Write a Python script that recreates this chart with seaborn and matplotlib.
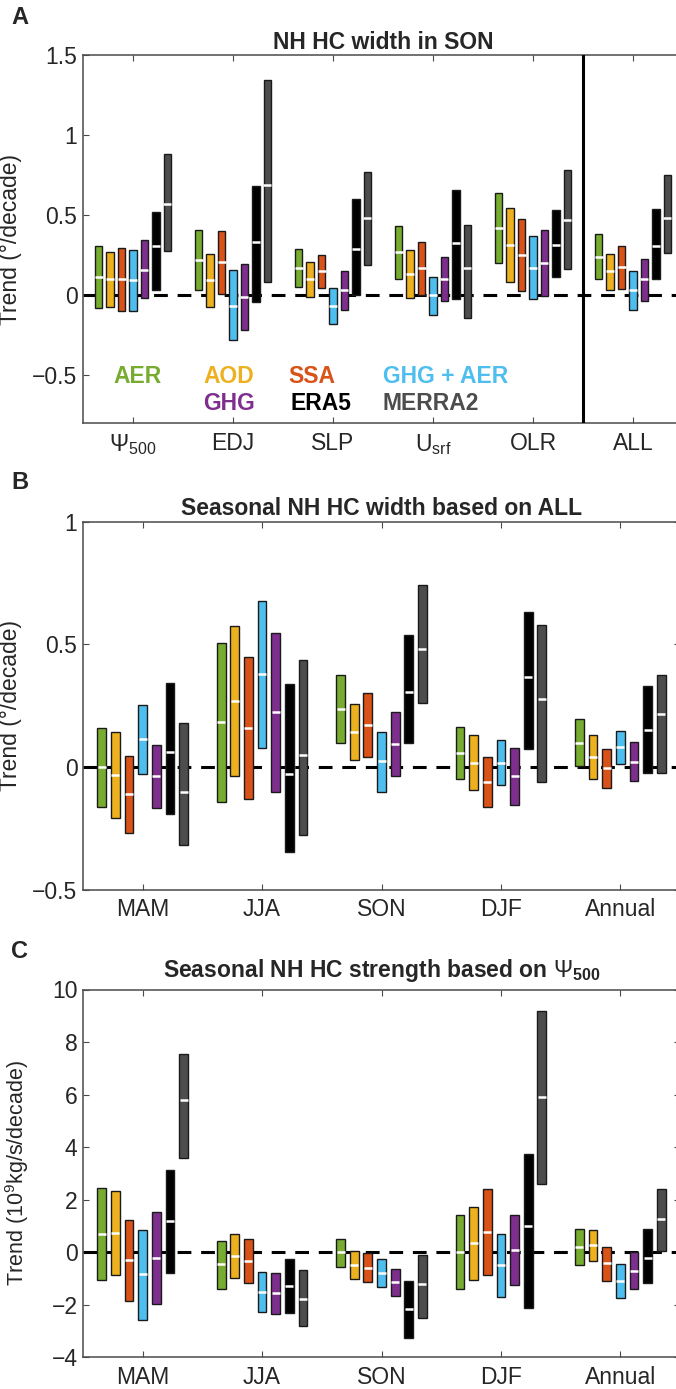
import numpy as np
import pandas as pd
import matplotlib
matplotlib.use("Agg")
import matplotlib.pyplot as plt
import seaborn as sns

# ---------------- data ----------------
series = ["AER", "AOD", "SSA", "GHG + AER", "GHG", "ERA5", "MERRA2"]
colors = ["#77AC30", "#EDB120", "#D95319", "#4DBEEE", "#7E2F8E", "#000000", "#4D4D4D"]

# Panel A: NH HC width in SON, by metric
cats_a = ["Psi500", "EDJ", "SLP", "Usrf", "OLR", "ALL"]
xlabels_a = [r"$\Psi_{500}$", "EDJ", "SLP", r"U$_{\mathrm{srf}}$", "OLR", "ALL"]
high_a = [
    [0.31, 0.41, 0.29, 0.435, 0.64, 0.38],
    [0.27, 0.26, 0.205, 0.28, 0.545, 0.26],
    [0.295, 0.40, 0.25, 0.335, 0.475, 0.305],
    [0.285, 0.155, 0.045, 0.115, 0.37, 0.15],
    [0.345, 0.195, 0.15, 0.24, 0.405, 0.225],
    [0.52, 0.68, 0.60, 0.66, 0.535, 0.54],
    [0.88, 1.345, 0.77, 0.44, 0.78, 0.75],
]
med_a = [
    [0.115, 0.22, 0.17, 0.27, 0.42, 0.24],
    [0.10, 0.095, 0.10, 0.135, 0.315, 0.15],
    [0.10, 0.205, 0.15, 0.17, 0.25, 0.175],
    [0.095, -0.065, -0.065, 0.0, 0.17, 0.03],
    [0.16, -0.01, 0.03, 0.10, 0.20, 0.10],
    [0.31, 0.335, 0.29, 0.325, 0.315, 0.31],
    [0.57, 0.69, 0.48, 0.17, 0.47, 0.485],
]
low_a = [
    [-0.08, 0.035, 0.05, 0.10, 0.20, 0.10],
    [-0.075, -0.075, -0.01, -0.015, 0.085, 0.035],
    [-0.10, 0.01, 0.045, 0.0, 0.025, 0.04],
    [-0.10, -0.28, -0.18, -0.125, -0.025, -0.095],
    [-0.02, -0.215, -0.09, -0.035, -0.005, -0.035],
    [0.03, -0.045, 0.0, -0.025, 0.115, 0.10],
    [0.275, 0.085, 0.19, -0.145, 0.165, 0.265],
]

# Panel B: seasonal NH HC width based on ALL
cats_s = ["MAM", "JJA", "SON", "DJF", "Annual"]
high_b = [
    [0.158, 0.504, 0.374, 0.164, 0.196],
    [0.145, 0.576, 0.259, 0.13, 0.131],
    [0.045, 0.447, 0.303, 0.041, 0.076],
    [0.255, 0.679, 0.145, 0.11, 0.149],
    [0.089, 0.547, 0.224, 0.08, 0.102],
    [0.343, 0.339, 0.539, 0.631, 0.329],
    [0.181, 0.436, 0.744, 0.578, 0.376],
]
med_b = [
    [0.0, 0.183, 0.237, 0.058, 0.10],
    [-0.03, 0.271, 0.145, 0.019, 0.043],
    [-0.11, 0.16, 0.172, -0.061, -0.004],
    [0.114, 0.378, 0.024, 0.017, 0.081],
    [-0.037, 0.224, 0.095, -0.035, 0.021],
    [0.062, -0.027, 0.305, 0.366, 0.152],
    [-0.102, 0.05, 0.481, 0.279, 0.215],
]
low_b = [
    [-0.163, -0.14, 0.099, -0.048, 0.005],
    [-0.207, -0.034, 0.03, -0.094, -0.046],
    [-0.267, -0.129, 0.041, -0.161, -0.084],
    [-0.027, 0.077, -0.099, -0.073, 0.013],
    [-0.164, -0.10, -0.034, -0.152, -0.058],
    [-0.19, -0.344, 0.10, 0.073, -0.024],
    [-0.316, -0.276, 0.26, -0.062, -0.024],
]

# Panel C: seasonal NH HC strength based on Psi500
high_c = [
    [2.44, 0.43, 0.51, 1.43, 0.90],
    [2.34, 0.70, 0.06, 1.71, 0.86],
    [1.23, 0.50, -0.04, 2.39, 0.21],
    [0.86, -0.74, -0.24, 0.70, -0.45],
    [1.52, -0.79, -0.64, 1.41, -0.01],
    [3.14, -0.25, -1.10, 3.74, 0.88],
    [7.55, -0.67, -0.09, 9.18, 2.42],
]
med_c = [
    [0.69, -0.46, -0.01, 0.02, 0.21],
    [0.75, -0.14, -0.48, 0.34, 0.28],
    [-0.31, -0.34, -0.59, 0.76, -0.42],
    [-0.84, -1.51, -0.78, -0.48, -1.09],
    [-0.23, -1.56, -1.14, 0.09, -0.70],
    [1.19, -1.28, -2.16, 1.00, -0.21],
    [5.80, -1.78, -1.22, 5.90, 1.28],
]
low_c = [
    [-1.06, -1.39, -0.57, -1.40, -0.48],
    [-0.85, -1.00, -1.03, -1.06, -0.33],
    [-1.85, -1.19, -1.14, -0.86, -1.08],
    [-2.57, -2.29, -1.33, -1.69, -1.75],
    [-1.97, -2.35, -1.68, -1.23, -1.41],
    [-0.80, -2.32, -3.27, -2.13, -1.17],
    [3.57, -2.79, -2.51, 2.59, 0.05],
]

yticks_a = [-0.5, 0, 0.5, 1, 1.5]
yticklabels_a = ["\u22120.5", "0", "0.5", "1", "1.5"]
yticks_b = [-0.5, 0, 0.5, 1]
yticklabels_b = ["\u22120.5", "0", "0.5", "1"]
yticks_c = [-4, -2, 0, 2, 4, 6, 8, 10]
yticklabels_c = ["\u22124", "\u22122", "0", "2", "4", "6", "8", "10"]

# ---------------- style ----------------
sns.set_theme(style="ticks")
plt.rcParams["font.family"] = ["Liberation Sans", "DejaVu Sans"]
plt.rcParams["mathtext.fontset"] = "custom"
plt.rcParams["mathtext.rm"] = "Liberation Sans"
plt.rcParams["mathtext.it"] = "Liberation Sans:italic"
plt.rcParams["mathtext.bf"] = "Liberation Sans:bold"
plt.rcParams["mathtext.sf"] = "Liberation Sans"

SPINE = "#4a4a4a"
FS = 16.5
palette = dict(zip(series, colors))

W, H = 676, 1389
fig = plt.figure(figsize=(W / 100, H / 100), dpi=100)


def make_ax(left, top, right, bottom):
    return fig.add_axes([left / W, 1 - bottom / H, (right - left) / W, (bottom - top) / H])


def panel(ax, cats, xlabels, low, med, high, ylim, yticks, yticklabels,
          title, ylabel, msize, title_pad, ylabel_fs=FS):
    rows = []
    for s, lo, md, hi in zip(series, low, med, high):
        for c, l, m, h in zip(cats, lo, md, hi):
            rows.append(dict(cat=c, series=s, low=l, med=m, span=h - l))
    df = pd.DataFrame(rows)

    ax.axhline(0, color="black", lw=2.2, ls=(0, (4.5, 3.2)), zorder=1)
    sns.barplot(data=df, x="cat", y="span", hue="series", order=cats,
                hue_order=series, palette=palette, saturation=1, width=0.8,
                gap=0.36, errorbar=None, edgecolor="#1a1a1a", linewidth=1.0,
                legend=False, ax=ax, zorder=2)
    # shift bars so they float from low to high
    for cont, s in zip(ax.containers, series):
        sub = df[df.series == s].set_index("cat").loc[cats]
        for patch, lo in zip(cont.patches, sub["low"]):
            patch.set_y(lo)
    sns.stripplot(data=df, x="cat", y="med", hue="series", order=cats,
                  hue_order=series, palette={s: "white" for s in series},
                  dodge=True, jitter=False, marker="_", size=msize,
                  linewidth=1.8, edgecolor="white", legend=False, ax=ax, zorder=3)

    ax.set_xlim(-0.5, len(cats) - 0.5)
    ax.set_ylim(*ylim)
    ax.set_xticks(range(len(cats)))
    ax.set_xticklabels(xlabels, fontsize=FS)
    ax.set_yticks(yticks)
    ax.set_yticklabels(yticklabels, fontsize=FS)
    ax.set_xlabel("")
    ax.set_ylabel(ylabel, fontsize=ylabel_fs)
    ax.tick_params(direction="in", top=True, right=True, length=4.5, width=0.8,
                   color=SPINE, labelcolor="#262626")
    ax.tick_params(axis="x", pad=6)
    ax.tick_params(axis="y", pad=4)
    for sp in ax.spines.values():
        sp.set_visible(True)
        sp.set_color(SPINE)
        sp.set_linewidth(1.1)
    ax.set_title(title, fontsize=16.5, fontweight="bold", pad=title_pad)


# Panel A
axA = make_ax(83, 55, 683, 423.3)
panel(axA, cats_a, xlabels_a, low_a, med_a, high_a, (-0.8, 1.5),
      yticks_a, yticklabels_a, "NH HC width in SON", "Trend (\u00b0/decade)", 5.4, 4.5)
axA.axvline(4.5, color="black", lw=2.2, zorder=4)
axA.yaxis.set_label_coords((22 - 83) / 600, 0.5)

# colour-key text (x in category units, left edges)
legend_items = [
    ("AER", -0.20, -0.506, colors[0]),
    ("AOD", 0.70, -0.506, colors[1]),
    ("SSA", 1.55, -0.506, colors[2]),
    ("GHG + AER", 2.50, -0.506, colors[3]),
    ("GHG", 0.70, -0.675, colors[4]),
    ("ERA5", 1.57, -0.675, colors[5]),
    ("MERRA2", 2.49, -0.675, colors[6]),
]
for txt, x, y, c in legend_items:
    axA.text(x, y, txt, color=c, fontsize=16.5, fontweight="bold",
             ha="left", va="center")

# Panel B
axB = make_ax(83, 521.7, 680, 890)
panel(axB, cats_s, cats_s, low_b, med_b, high_b, (-0.5, 1.0),
      yticks_b, yticklabels_b, "Seasonal NH HC width based on ALL",
      "Trend (\u00b0/decade)", 6.3, 4.5)
axB.yaxis.set_label_coords((22 - 83) / 597, 0.5)

# Panel C
axC = make_ax(83, 989.5, 680, 1357.3)
panel(axC, cats_s, cats_s, low_c, med_c, high_c, (-4, 10),
      yticks_c, yticklabels_c,
      r"Seasonal NH HC strength based on $\Psi_{\mathbf{500}}$",
      r"Trend (10$^{9}$kg/s/decade)", 6.3, 9, ylabel_fs=15.5)
axC.yaxis.set_label_coords((31 - 83) / 597, 0.5)

# panel letters
for letter, ypix in [("A", 18), ("B", 483), ("C", 951)]:
    fig.text(11 / W, 1 - ypix / H, letter, fontsize=17, fontweight="bold",
             ha="left", va="center")

fig.savefig("out.png", dpi=100)
